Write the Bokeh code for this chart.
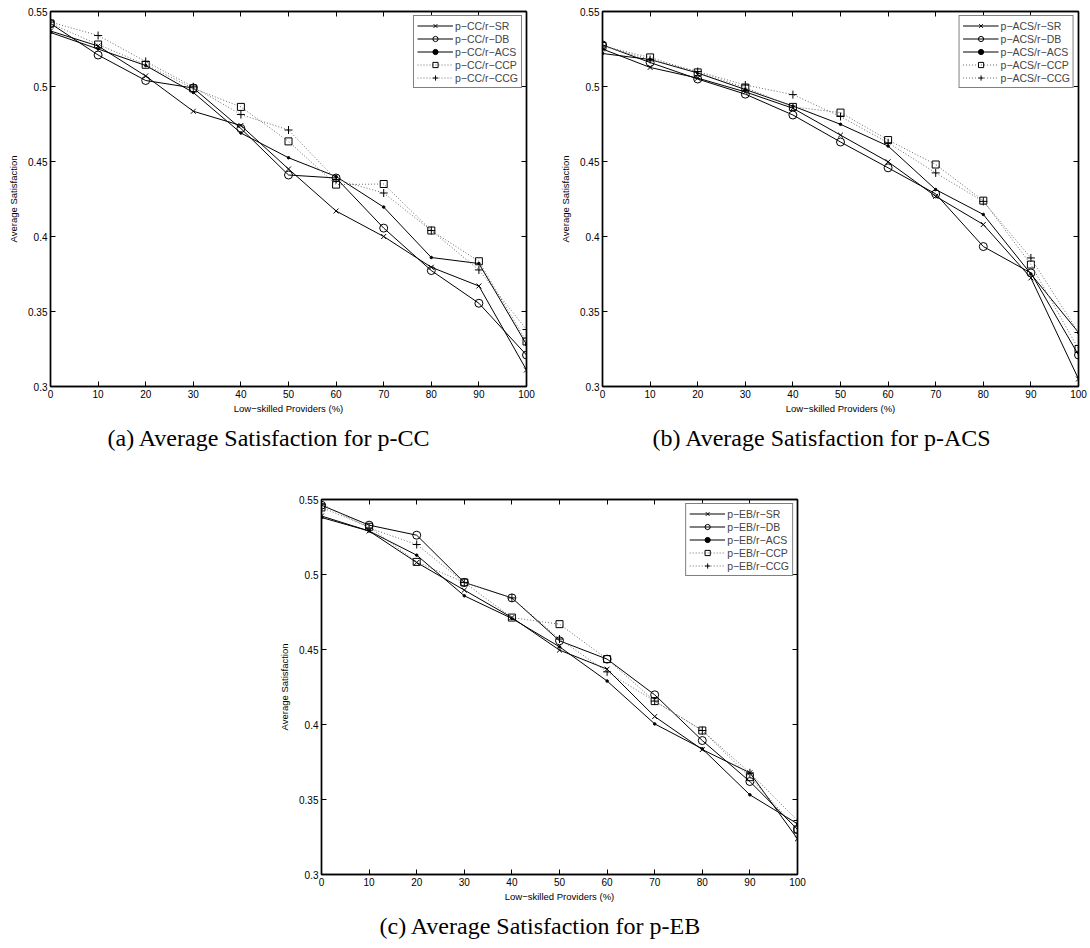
from bokeh.plotting import figure
from bokeh.models import LinearAxis, FixedTicker, Range1d, Spacer
from bokeh.layouts import column, row
from bokeh.embed import file_html
from bokeh.resources import INLINE

# ---------------- data ----------------
low_skilled_pct = [0, 10, 20, 30, 40, 50, 60, 70, 80, 90, 100]
x_ticks = [0, 10, 20, 30, 40, 50, 60, 70, 80, 90, 100]
y_ticks = [0.3, 0.35, 0.4, 0.45, 0.5, 0.55]
y_tick_labels = ["0.3", "0.35", "0.4", "0.45", "0.5", "0.55"]
strategies = ["SR", "DB", "ACS", "CCP", "CCG"]

# (a) p-CC
pcc_sr = [0.537, 0.527, 0.507, 0.4835, 0.474, 0.445, 0.417, 0.400, 0.3795, 0.367, 0.311]
pcc_db = [0.542, 0.521, 0.504, 0.499, 0.472, 0.441, 0.439, 0.4056, 0.3773, 0.3555, 0.321]
pcc_acs = [0.536, 0.525, 0.514, 0.496, 0.469, 0.4525, 0.440, 0.4196, 0.386, 0.382, 0.328]
pcc_ccp = [0.542, 0.528, 0.5145, 0.4987, 0.4864, 0.4634, 0.4346, 0.435, 0.404, 0.3835, 0.330]
pcc_ccg = [0.543, 0.534, 0.5167, 0.4998, 0.4813, 0.471, 0.438, 0.429, 0.404, 0.3777, 0.338]

# (b) p-ACS
pacs_sr = [0.525, 0.5127, 0.5056, 0.4964, 0.4855, 0.4676, 0.4498, 0.4268, 0.408, 0.3724, 0.305]
pacs_db = [0.5277, 0.516, 0.505, 0.4949, 0.481, 0.463, 0.4458, 0.4284, 0.3933, 0.3757, 0.321]
pacs_acs = [0.522, 0.518, 0.509, 0.498, 0.487, 0.4748, 0.4603, 0.4313, 0.4147, 0.375, 0.336]
pacs_ccp = [0.527, 0.5194, 0.5094, 0.4993, 0.4864, 0.4826, 0.4643, 0.448, 0.4239, 0.3813, 0.325]
pacs_ccg = [0.527, 0.518, 0.510, 0.501, 0.4946, 0.480, 0.4625, 0.4424, 0.4234, 0.3857, 0.336]

# (c) p-EB
peb_sr = [0.539, 0.529, 0.508, 0.4896, 0.4713, 0.4496, 0.4369, 0.4053, 0.3833, 0.3678, 0.3238]
peb_db = [0.5462, 0.5329, 0.5262, 0.4947, 0.4844, 0.4558, 0.4436, 0.4198, 0.3893, 0.362, 0.330]
peb_acs = [0.538, 0.529, 0.5129, 0.4858, 0.4707, 0.4518, 0.429, 0.4004, 0.3838, 0.3531, 0.3338]
peb_ccp = [0.5447, 0.5318, 0.5084, 0.4947, 0.4713, 0.4669, 0.4436, 0.4156, 0.396, 0.3649, 0.330]
peb_ccg = [0.547, 0.531, 0.520, 0.4947, 0.4844, 0.457, 0.4351, 0.4156, 0.396, 0.3678, 0.336]

# ---------------- styling ----------------
SANS = "Liberation Sans"
SERIF = "Liberation Serif"
STYLE = {
    "SR": dict(marker="x", size=7, dash="solid", color="black", fill=None),
    "DB": dict(marker="circle", size=8, dash="solid", color="black", fill=None),
    "ACS": dict(marker="circle", size=2.5, dash="solid", color="black", fill="black"),
    "CCP": dict(marker="square", size=7, dash="1 2", color="#6a6a6a", fill=None),
    "CCG": dict(marker="cross", size=8, dash="1 2", color="#6a6a6a", fill=None),
}


def style_axis(ax, labels=True):
    ax.axis_line_width = 1.4
    ax.axis_line_color = "black"
    ax.major_tick_in = 5
    ax.major_tick_out = 0
    ax.major_tick_line_color = "black"
    ax.minor_tick_line_color = None
    ax.major_label_text_font = SANS
    ax.axis_label_text_font = SANS
    ax.axis_label_text_font_size = "9.5px"
    ax.axis_label_text_font_style = "normal"
    ax.axis_label_text_color = "black"
    if labels:
        ax.major_label_text_font_size = "10px"
        ax.major_label_text_color = "black"
    else:
        ax.major_label_text_font_size = "6px"
        ax.major_label_text_color = None
        ax.major_label_standoff = 0


def make_panel(prefix, values, caption, caption_left, border_right, border_top, border_bottom):
    p = figure(frame_width=476, frame_height=375,
               x_range=Range1d(0, 100), y_range=Range1d(0.3, 0.55),
               output_backend="svg", toolbar_location=None,
               min_border_left=50, min_border_right=border_right,
               min_border_top=border_top, min_border_bottom=border_bottom,
               title=caption, title_location="below",
               background_fill_color="white", border_fill_color="white")
    p.grid.visible = False
    p.outline_line_color = "black"
    p.outline_line_width = 1.4

    xa = p.xaxis[0]
    xa.ticker = FixedTicker(ticks=x_ticks)
    xa.axis_label = "Low\u2212skilled Providers (%)"
    style_axis(xa)
    xa.major_label_standoff = 3
    xa.axis_label_standoff = 2

    ya = p.yaxis[0]
    ya.ticker = FixedTicker(ticks=y_ticks)
    ya.major_label_overrides = dict(zip(y_ticks, y_tick_labels))
    ya.axis_label = "Average Satisfaction"
    style_axis(ya)
    ya.major_label_standoff = 3
    ya.axis_label_standoff = 6

    top = LinearAxis(ticker=FixedTicker(ticks=x_ticks))
    style_axis(top, labels=False)
    p.add_layout(top, "above")
    right = LinearAxis(ticker=FixedTicker(ticks=y_ticks))
    style_axis(right, labels=False)
    p.add_layout(right, "right")

    for name, ys in zip(strategies, values):
        st = STYLE[name]
        label = f"p\u2212{prefix}/r\u2212{name}"
        p.line(low_skilled_pct, ys, line_color=st["color"], line_width=1,
               line_dash=st["dash"], legend_label=label)
        p.scatter(low_skilled_pct, ys, marker=st["marker"], size=st["size"],
                  line_color="black", line_width=1, fill_color=st["fill"],
                  legend_label=label)

    lg = p.legend[0]
    lg.location = "top_right"
    lg.margin = 4
    lg.padding = 3
    lg.spacing = 0
    lg.border_line_color = "black"
    lg.border_line_width = 1.2
    lg.background_fill_color = "white"
    lg.background_fill_alpha = 1
    lg.label_text_font = SANS
    lg.label_text_font_size = "10.5px"
    lg.label_height = 13
    lg.glyph_height = 13
    lg.glyph_width = 36
    lg.label_standoff = 2

    p.title.text_font = SERIF
    p.title.text_font_size = "24px"
    p.title.text_font_style = "normal"
    p.title.align = "left"
    p.title.offset = caption_left
    p.title.text_color = "black"
    p.title.standoff = 12
    return p


pa = make_panel("CC", [pcc_sr, pcc_db, pcc_acs, pcc_ccp, pcc_ccg],
                "(a)  Average Satisfaction for p-CC", 57, 26, 11, 72)
pb = make_panel("ACS", [pacs_sr, pacs_db, pacs_acs, pacs_ccp, pacs_ccg],
                "(b)  Average Satisfaction for p-ACS", 50, 12, 11, 72)
pc = make_panel("EB", [peb_sr, peb_db, peb_acs, peb_ccp, peb_ccg],
                "(c)  Average Satisfaction for p-EB", 58, 26, 41, 72)

layout = column(row(pa, pb), row(Spacer(width=271, height=10), pc))
open("out.html", "w").write(file_html(layout, INLINE))
